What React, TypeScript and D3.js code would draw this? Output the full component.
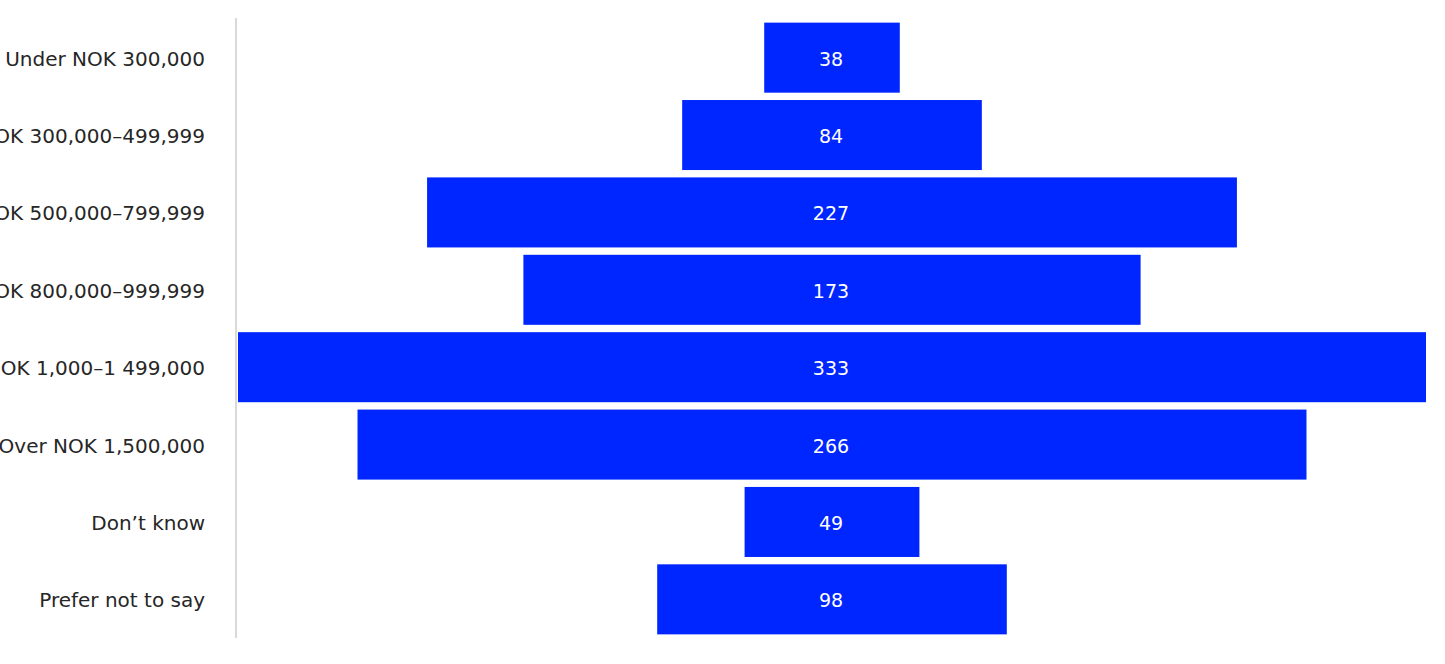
import React, { useEffect, useRef } from 'react';
import * as d3 from 'd3';

const categories = [
  'Under NOK 300,000',
  'NOK 300,000–499,999',
  'NOK 500,000–799,999',
  'NOK 800,000–999,999',
  'NOK 1,000–1 499,000',
  'Over NOK 1,500,000',
  'Don’t know',
  'Prefer not to say',
];
const counts = [38, 84, 227, 173, 333, 266, 49, 98];

const WIDTH = 1445;
const HEIGHT = 664;

const App: React.FC = () => {
  const svgRef = useRef<SVGSVGElement>(null);

  useEffect(() => {
    if (!svgRef.current) {return;}
    const svg = d3.select(svgRef.current);
    svg.selectAll('*').remove();

    const rows = categories.map((c, i) => ({ label: c, value: counts[i] }));

    // centred funnel bars
    const centerX = 832;
    const maxWidth = 1188;
    const w = d3.scaleLinear().domain([0, d3.max(counts) || 1]).range([0, maxWidth]);
    const y = d3.scaleBand<string>()
      .domain(categories)
      .range([19, 638])
      .paddingInner(0.095)
      .paddingOuter(0.047);

    const font = '"DejaVu Sans", sans-serif';

    svg.append('line')
      .attr('x1', 236).attr('x2', 236)
      .attr('y1', 18).attr('y2', 638)
      .attr('stroke', '#d9d9d9')
      .attr('stroke-width', 2);

    svg.selectAll('.bar')
      .data(rows)
      .enter()
      .append('rect')
      .attr('class', 'bar')
      .attr('x', d => centerX - w(d.value) / 2)
      .attr('y', d => y(d.label) || 0)
      .attr('width', d => w(d.value))
      .attr('height', y.bandwidth())
      .attr('fill', '#0026ff');

    svg.selectAll('.val')
      .data(rows)
      .enter()
      .append('text')
      .attr('class', 'val')
      .attr('x', centerX - 1)
      .attr('y', d => (y(d.label) || 0) + y.bandwidth() / 2 + 1)
      .attr('text-anchor', 'middle')
      .attr('dominant-baseline', 'central')
      .attr('font-family', font)
      .attr('font-size', 19)
      .attr('fill', '#fff')
      .text(d => d.value);

    svg.selectAll('.cat')
      .data(rows)
      .enter()
      .append('text')
      .attr('class', 'cat')
      .attr('x', 205)
      .attr('y', d => (y(d.label) || 0) + y.bandwidth() / 2 + 1)
      .attr('text-anchor', 'end')
      .attr('dominant-baseline', 'central')
      .attr('font-family', font)
      .attr('font-size', 20)
      .attr('fill', '#262626')
      .text(d => d.label);
  }, []);

  return (
    <svg
      ref={svgRef}
      width={WIDTH}
      height={HEIGHT}
      style={{ position: 'absolute', left: 0, top: 0, background: '#fff' }}
    />
  );
};

export default App;
